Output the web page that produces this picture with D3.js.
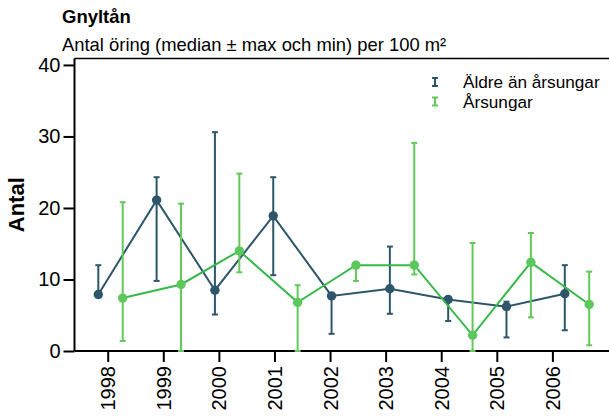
<!DOCTYPE html>
<html>
<head>
<meta charset="utf-8">
<script src="https://cdn.jsdelivr.net/npm/d3@7"></script>
<style>
  body { margin: 0; background: #fff; }
  svg { font-family: Arial, "Liberation Sans", sans-serif; }
</style>
</head>
<body>
<div id="chart"></div>
<script>
// Data
const years = ["1998", "1999", "2000", "2001", "2002", "2003", "2004", "2005", "2006"];
// Äldre än årsungar
const olderMedian = [7.9, 21.1, 8.5, 18.9, 7.7, 8.7, 7.2, 6.2, 8.0];
const olderMax    = [12.0, 24.3, 30.6, 24.3, 7.8, 14.6, 7.2, 6.9, 12.0];
const olderMin    = [7.5, 9.8, 5.1, 10.6, 2.4, 5.2, 4.2, 1.9, 2.9];
// Årsungar
const youngMedian = [7.4, 9.3, 14.0, 6.8, 12.0, 12.0, 2.2, 12.4, 6.5];
const youngMax    = [20.8, 20.6, 24.8, 9.2, 12.0, 29.1, 15.1, 16.5, 11.1];
const youngMin    = [1.4, 0, 11.0, 0, 9.8, 10.7, 0, 4.7, 0.8];
const yTicks = [0, 10, 20, 30, 40];

const WIDTH = 609, HEIGHT = 417;
const DARK = "#2d566b";
const GREEN_PT = "#5cc85c", GREEN_LINE = "#36b94a", GREEN_BAR = "#62c95a";

const svg = d3.select("#chart").append("svg")
    .attr("width", WIDTH)
    .attr("height", HEIGHT);

const plotLeft = 74.5, plotRight = 609, plotTop = 58.5, plotBottom = 351;

const y = d3.scaleLinear().domain([0, 40.9]).range([plotBottom, plotTop]);
// tick positions and mark positions do not line up in the original
const xTick = d3.scalePoint().domain(years).range([107.7, 552.4]);
const xMark = d3.scalePoint().domain(years).range([110.5, 577]);
const DODGE = 12.2;

// frame: left axis, bottom axis, top line
svg.append("line").attr("x1", plotLeft).attr("x2", plotRight).attr("y1", plotTop).attr("y2", plotTop)
    .attr("stroke", "#000").attr("stroke-width", 1.5);

const yAxis = svg.append("g")
    .attr("transform", `translate(${plotLeft},0)`)
    .call(d3.axisLeft(y).tickValues(yTicks).tickSize(11).tickPadding(3));
yAxis.select(".domain").attr("d", `M0,${plotTop}V${plotBottom}`).attr("stroke-width", 2);
yAxis.selectAll(".tick line").attr("stroke-width", 2);
yAxis.selectAll("text").style("font-size", "20px").attr("fill", "#000");

const xAxis = svg.append("g")
    .attr("transform", `translate(0,${plotBottom})`)
    .call(d3.axisBottom(xTick).tickSize(11).tickSizeOuter(0));
xAxis.select(".domain").attr("d", `M${plotLeft},0H${plotRight}`).attr("stroke-width", 2);
xAxis.selectAll(".tick line").attr("stroke-width", 2);
xAxis.selectAll("text")
    .style("font-size", "20px")
    .attr("fill", "#000")
    .attr("text-anchor", "end")
    .attr("transform", "rotate(-90)")
    .attr("x", -15)
    .attr("y", 0)
    .attr("dy", "0.35em");

function drawSeries(med, mn, mx, off, lineColor, barColor, ptColor) {
    const g = svg.append("g");
    const xs = years.map(yr => xMark(yr) + off);
    const capW = 3;

    g.selectAll("line.bar").data(years).enter().append("line")
        .attr("x1", (d, i) => xs[i]).attr("x2", (d, i) => xs[i])
        .attr("y1", (d, i) => y(mn[i])).attr("y2", (d, i) => y(mx[i]))
        .attr("stroke", barColor).attr("stroke-width", 2);
    g.selectAll("line.capTop").data(years).enter().append("line")
        .attr("x1", (d, i) => xs[i] - capW).attr("x2", (d, i) => xs[i] + capW)
        .attr("y1", (d, i) => y(mx[i])).attr("y2", (d, i) => y(mx[i]))
        .attr("stroke", barColor).attr("stroke-width", 2);
    g.selectAll("line.capBot").data(years).enter().append("line")
        .attr("x1", (d, i) => xs[i] - capW).attr("x2", (d, i) => xs[i] + capW)
        .attr("y1", (d, i) => y(mn[i])).attr("y2", (d, i) => y(mn[i]))
        .attr("stroke", barColor).attr("stroke-width", 2);

    const line = d3.line().x((d, i) => xs[i]).y(d => y(d));
    g.append("path").datum(med)
        .attr("d", line)
        .attr("fill", "none")
        .attr("stroke", lineColor)
        .attr("stroke-width", 2);

    g.selectAll("circle").data(med).enter().append("circle")
        .attr("cx", (d, i) => xs[i]).attr("cy", d => y(d))
        .attr("r", 4.7)
        .attr("fill", ptColor);
}

drawSeries(olderMedian, olderMin, olderMax, -DODGE, DARK, DARK, DARK);
drawSeries(youngMedian, youngMin, youngMax, DODGE, GREEN_LINE, GREEN_BAR, GREEN_PT);

// titles
svg.append("text").attr("x", 62).attr("y", 23)
    .style("font-size", "18.5px").style("font-weight", "bold")
    .text("Gnyltån");
svg.append("text").attr("x", 62).attr("y", 50.5)
    .style("font-size", "18.4px")
    .text("Antal öring (median ± max och min) per 100 m²");

svg.append("text")
    .attr("transform", `translate(24,${(plotTop + plotBottom) / 2}) rotate(-90)`)
    .attr("text-anchor", "middle")
    .style("font-size", "22px").style("font-weight", "bold")
    .text("Antal");

// legend
const legendItems = [
    { label: "Äldre än årsungar", color: DARK },
    { label: "Årsungar", color: GREEN_BAR }
];
const legend = svg.append("g").attr("transform", "translate(435,82)");
legendItems.forEach((d, i) => {
    const row = legend.append("g").attr("transform", `translate(0,${i * 19.5})`);
    row.append("line").attr("x1", 0).attr("x2", 0).attr("y1", -4).attr("y2", 4)
        .attr("stroke", d.color).attr("stroke-width", 2);
    [-4, 4].forEach(yy => row.append("line")
        .attr("x1", -3).attr("x2", 3).attr("y1", yy).attr("y2", yy)
        .attr("stroke", d.color).attr("stroke-width", 2));
    row.append("text").attr("x", 28).attr("y", 0).attr("dy", "0.35em")
        .style("font-size", "17.2px")
        .text(d.label);
});
</script>
</body>
</html>
